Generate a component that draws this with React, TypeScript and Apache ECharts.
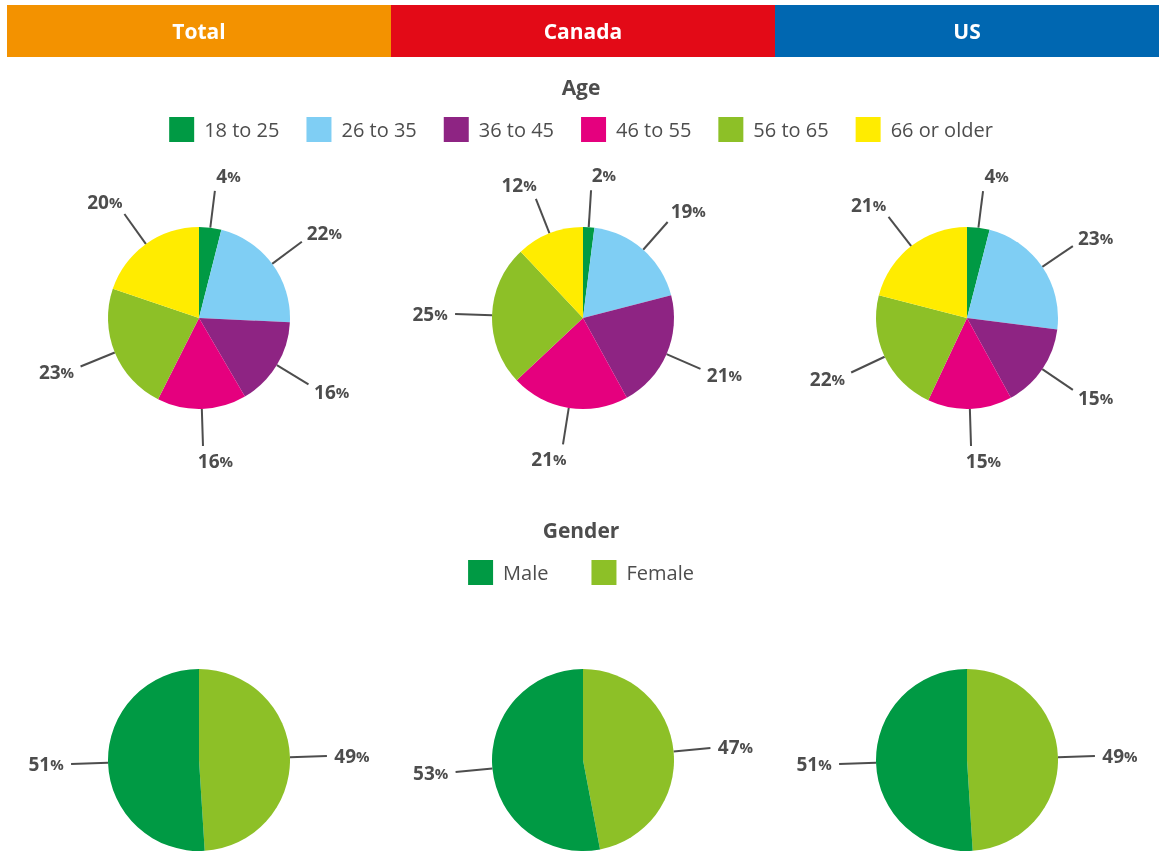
import React, { useEffect, useRef } from 'react';
import * as echarts from 'echarts';

const regions = ['Total', 'Canada', 'US'];
const regionColors = ['#F39200', '#E30A17', '#0067B1'];
const ageGroups = ['18 to 25', '26 to 35', '36 to 45', '46 to 55', '56 to 65', '66 or older'];
const ageColors = ['#009A44', '#7FCEF4', '#8E2483', '#E5007E', '#8DC027', '#FFEC00'];
const ageTotal = [4, 22, 16, 16, 23, 20];
const ageCanada = [2, 19, 21, 21, 25, 12];
const ageUS = [4, 23, 15, 15, 22, 21];
const genders = ['Male', 'Female'];
const genderColors = ['#009A44', '#8DC027'];
const genderTotal = [51, 49];
const genderCanada = [53, 47];
const genderUS = [51, 49];

const FONT = 'Open Sans';
const TEXT = '#4D4D4D';
const COLS = [199, 583, 967];

function labelLayout(params: any) {
  const pts = params.labelLinePoints;
  if (!pts || pts.length < 2) return {};
  const p0 = pts[0];
  const p1 = pts[1];
  const dx = p1[0] - p0[0];
  const dy = p1[1] - p0[1];
  const len = Math.hypot(dx, dy) || 1;
  const ux = dx / len;
  const uy = dy / len;
  const end = [p0[0] + ux * 37, p0[1] + uy * 37];
  const sx = ux >= 0 ? 1 : -1;
  return {
    x: end[0] + sx * (12 + 13 * Math.abs(ux)),
    y: end[1] + uy * 15,
    align: 'center',
    verticalAlign: 'middle',
    labelLinePoints: [p0, end, end],
  };
}

function pieSeries(names: string[], values: number[], colors: string[], cx: number, cy: number, order?: number[]) {
  const idx = order || names.map((_, i) => i);
  return {
    type: 'pie',
    center: [cx, cy],
    radius: 91,
    startAngle: 90,
    clockwise: true,
    avoidLabelOverlap: false,
    silent: true,
    emphasis: { disabled: true },
    itemStyle: { borderWidth: 0 },
    label: {
      show: true,
      position: 'outside',
      formatter: (p: any) => `{n|${p.value}}{p|%}`,
      rich: {
        n: { fontFamily: FONT, fontSize: 19, fontWeight: 'bold', color: TEXT },
        p: { fontFamily: FONT, fontSize: 15, fontWeight: 'bold', color: TEXT },
      },
    },
    labelLine: { show: true, length: 37, length2: 0, smooth: false, lineStyle: { color: TEXT, width: 2 } },
    labelLayout,
    data: idx.map((i) => ({ name: names[i], value: values[i], itemStyle: { color: colors[i] } })),
  };
}

export default function App() {
  const ref = useRef<HTMLDivElement>(null);
  useEffect(() => {
    if (!ref.current) return;
    const chart = echarts.init(ref.current, null, { renderer: 'svg' });
    const headerW = 384;
    const graphic: any[] = [];
    regions.forEach((r, i) => {
      graphic.push({
        type: 'rect',
        shape: { x: 7 + i * headerW, y: 5, width: headerW + (i < 2 ? 0.5 : 0), height: 52 },
        style: { fill: regionColors[i] },
      });
      graphic.push({
        type: 'text',
        x: 7 + i * headerW + headerW / 2,
        y: 31,
        style: {
          text: r,
          fill: '#ffffff',
          font: `bold 21px "${FONT}"`,
          align: 'center',
          verticalAlign: 'middle',
        },
      });
    });
    const ages = [ageTotal, ageCanada, ageUS];
    const gens = [genderTotal, genderCanada, genderUS];
    const series: any[] = [];
    ages.forEach((v, i) => series.push(pieSeries(ageGroups, v, ageColors, COLS[i], 318)));
    gens.forEach((v, i) => series.push(pieSeries(genders, v, genderColors, COLS[i], 760, [1, 0])));
    chart.setOption({
      animation: false,
      textStyle: { fontFamily: FONT },
      title: [
        { text: 'Age', left: 'center', top: 71, textStyle: { fontFamily: FONT, fontSize: 21, fontWeight: 'bold', color: TEXT } },
        { text: 'Gender', left: 'center', top: 514, textStyle: { fontFamily: FONT, fontSize: 21, fontWeight: 'bold', color: TEXT } },
      ],
      legend: [
        {
          data: ageGroups,
          left: 'center',
          top: 112,
          icon: 'rect',
          itemWidth: 25,
          itemHeight: 25,
          itemGap: 27,
          selectedMode: false,
          textStyle: { fontFamily: FONT, fontSize: 20, color: TEXT, padding: [0, 0, 0, 5] },
        },
        {
          data: genders,
          left: 'center',
          top: 555,
          icon: 'rect',
          itemWidth: 25,
          itemHeight: 25,
          itemGap: 43,
          selectedMode: false,
          textStyle: { fontFamily: FONT, fontSize: 20, color: TEXT, padding: [0, 0, 0, 5] },
        },
      ],
      graphic,
      series,
    });
    return () => chart.dispose();
  }, []);
  return <div ref={ref} style={{ position: 'fixed', left: 0, top: 0, width: 1162, height: 852 }} />;
}
